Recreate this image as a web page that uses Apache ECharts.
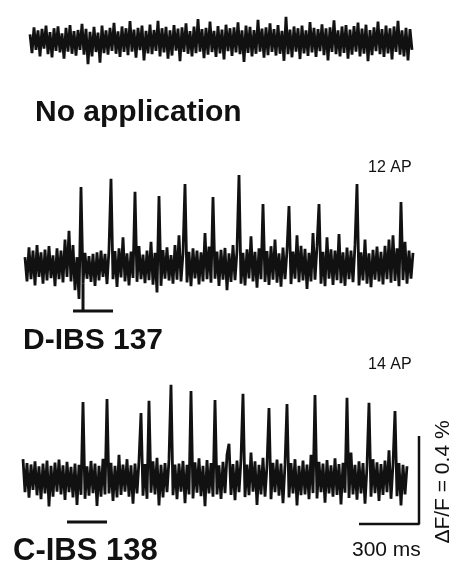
<!DOCTYPE html>
<html>
<head>
<meta charset="utf-8">
<script src="https://cdn.jsdelivr.net/npm/echarts@6/dist/echarts.min.js"></script>
<style>
html,body{margin:0;padding:0;background:#fff;}
#chart{width:455px;height:567px;}
</style>
</head>
<body>
<div id="chart"></div>
<script>
// Sampling interval of the traces (ms)
const sampleMs = 10;
// Values are ΔF/F in units of 0.001 %
const traceNoApp = [
 30,-55,62,-40,48,-70,55,-35,70,-60,40,-75,58,-45,66,-52,35,-80,60,-48,
 72,-58,45,-66,50,-40,78,-62,55,-105,42,-70,64,-50,38,-98,70,-55,48,-62,
 60,-45,82,-58,44,-72,66,-50,58,-64,90,-48,52,-76,60,-42,70,-88,46,-56,
 75,-60,50,-45,92,-70,58,-52,64,-80,48,-66,72,-44,56,-92,62,-50,80,-58,
 45,-70,66,-55,100,-48,54,-78,60,-62,88,-50,46,-72,68,-56,52,-84,74,-46,
 58,-68,62,-52,85,-60,48,-95,70,-54,64,-70,50,-58,96,-48,56,-76,62,-64,
 80,-50,54,-66,72,-58,46,-90,110,-60,52,-74,66,-48,58,-82,70,-56,48,-68,
 86,-52,60,-72,54,-46,76,-64,58,-88,62,-50,94,-60,48,-70,66,-54,72,-80,
 52,-62,68,-48,84,-70,56,-58,74,-92,50,-64,62,-46,88,-60,54,-72,70,-56,
 58,-84,66,-50,92,-62,48,-70,60,-88,54,-40
];
const traceD137 = [
 40,-70,85,-60,70,-88,95,-50,62,-80,75,-66,90,-55,48,-92,80,-60,70,-75,
 120,-50,160,-70,95,-110,40,-150,359,-80,60,-58,45,-72,55,-90,62,-66,70,-50,
 55,-82,75,396,-60,68,-95,80,-52,130,-70,58,-88,66,-54,337,-72,90,-60,52,
 -78,70,-64,110,-85,60,-120,318,-90,72,-58,85,-66,50,-80,95,-62,140,-70,58,
 373,-75,64,-92,80,-56,70,-84,62,-70,150,-60,88,-76,314,-58,66,-90,74,-62,
 82,-110,58,-72,95,-64,70,414,-80,60,-88,76,-56,135,-70,64,-98,80,-60,282,
 -72,68,-86,90,-62,120,-76,58,-94,84,-60,70,273,-82,66,-58,140,-74,92,-66,
 78,-104,60,-70,150,-62,88,282,-80,64,-92,130,-58,76,-86,70,-64,145,-78,62,
 -90,84,-60,70,-74,96,373,-88,62,-66,120,-80,58,-96,74,-62,88,-70,64,-84,
 92,-60,120,-76,140,-68,80,-92,291,-64,110,-80,70,-58,60
];
const traceC138 = [
 90,-60,72,-85,66,-50,80,-74,58,-92,70,-66,84,-125,60,-80,75,-58,88,-70,
 62,-95,78,-60,55,-84,70,-118,64,-72,350,-90,58,-76,82,-64,70,-122,60,-80,
 92,-70,364,-66,74,-100,60,-84,110,-72,66,-58,90,-80,62,-112,70,-66,84,300,
 -76,68,-90,355,-62,80,-70,96,-120,64,-84,72,-60,88,428,-74,66,-92,70,-58,
 82,-110,64,-70,400,-88,76,-62,94,-78,60,-124,86,-66,72,-80,359,-70,62,-90,
 78,-64,110,160,-72,68,-96,84,-60,90,387,-82,66,-74,120,-58,80,-118,64,-70,
 96,-80,62,323,-92,74,-60,88,-76,70,-110,64,341,-84,72,-66,90,-120,60,-74,
 84,-70,66,-92,110,-64,382,-88,78,-60,70,-108,86,-66,62,-80,94,-72,68,-116,
 74,-62,369,-86,120,-70,64,-94,80,-66,72,-112,58,346,-80,90,-64,76,-100,68,
 -72,84,-60,130,-90,66,309,-78,72,-120,64,-70,58
];
// Stimulus bars (ms) and their level (0.001 %)
const stimD137 = [240, 440];
const stimD137Stem = 290;
const stimD137Level = -205;
const stimD137StemTop = -80;
const stimC138 = [220, 420];
const stimC138Level = -195;
// Scale bar: 300 ms, ΔF/F = 0.4 % (=400 units), corner at (1980 ms, -205)
const scaleMs = 300;
const scalePct = 0.4;
const scaleCornerMs = 1980;
const scaleCornerVal = -205;
// Labels
const labels = ['No application', 'D-IBS 137', 'C-IBS 138'];
const apLabels = ['12 AP', '14 AP'];
const scaleTimeLabel = '300 ms';
const scaleAmpLabel = 'ΔF/F = 0.4 %';

function toPairs(arr){ return arr.map((v,i)=>[i*sampleMs, v]); }

const chart = echarts.init(document.getElementById('chart'), null, {renderer:'canvas'});
const black = '#111';
const lineStyle = {color: black, width: 2.8, join: 'bevel'};
const barStyle = {color: black, width: 3};
const scaleUnits = scalePct * 1000;

const FONT = 'Liberation Sans, Arial, sans-serif';
function txt(x, y, text, size, weight, align, rot){
  return {type:'text', x:x, y:y, rotation: rot||0, silent:true,
    style:{text:text, fill:black, font: (weight||'normal')+' '+size+'px '+FONT,
      fontSize:size, fontWeight:weight||'normal', fontFamily:FONT,
      textAlign: align||'left', textVerticalAlign:'middle', align: align||'left', verticalAlign:'middle'}};
}

chart.setOption({
  animation:false,
  backgroundColor:'#fff',
  grid:[
    {left:30, top:8, width:382, height:66},
    {left:25, top:167, width:388, height:147.4},
    {left:23, top:380, width:400, height:147.4}
  ],
  xAxis:[
    {gridIndex:0, type:'value', min:0, max:1910, show:false},
    {gridIndex:1, type:'value', min:0, max:1940, show:false},
    {gridIndex:2, type:'value', min:0, max:2000, show:false}
  ],
  yAxis:[
    {gridIndex:0, type:'value', min:-150, max:150, show:false},
    {gridIndex:1, type:'value', min:-220, max:450, show:false},
    {gridIndex:2, type:'value', min:-220, max:450, show:false}
  ],
  series:[
    {type:'line', xAxisIndex:0, yAxisIndex:0, data:toPairs(traceNoApp), showSymbol:false, lineStyle:lineStyle, clip:false},
    {type:'line', xAxisIndex:1, yAxisIndex:1, data:toPairs(traceD137), showSymbol:false, lineStyle:lineStyle, clip:false},
    {type:'line', xAxisIndex:2, yAxisIndex:2, data:toPairs(traceC138), showSymbol:false, lineStyle:lineStyle, clip:false},
    {type:'line', xAxisIndex:1, yAxisIndex:1, data:[[stimD137[0],stimD137Level],[stimD137[1],stimD137Level]], showSymbol:false, lineStyle:barStyle, clip:false},
    {type:'line', xAxisIndex:1, yAxisIndex:1, data:[[stimD137Stem,stimD137StemTop],[stimD137Stem,stimD137Level]], showSymbol:false, lineStyle:barStyle, clip:false},
    {type:'line', xAxisIndex:2, yAxisIndex:2, data:[[stimC138[0],stimC138Level],[stimC138[1],stimC138Level]], showSymbol:false, lineStyle:barStyle, clip:false},
    {type:'line', xAxisIndex:2, yAxisIndex:2, data:[[scaleCornerMs-scaleMs,scaleCornerVal],[scaleCornerMs,scaleCornerVal],[scaleCornerMs,scaleCornerVal+scaleUnits]], showSymbol:false, lineStyle:{color:black,width:2.5}, clip:false}
  ],
  graphic:[
    txt(35, 113, labels[0], 30, 'bold'),
    txt(23, 341, labels[1], 30, 'bold'),
    txt(13, 551, labels[2], 31, 'bold'),
    txt(368, 168, apLabels[0], 16),
    txt(368, 365, apLabels[1], 16),
    txt(352, 550, scaleTimeLabel, 21),
    txt(443, 482, scaleAmpLabel, 21, 'normal', 'center', Math.PI/2)
  ]
});
</script>
</body>
</html>
